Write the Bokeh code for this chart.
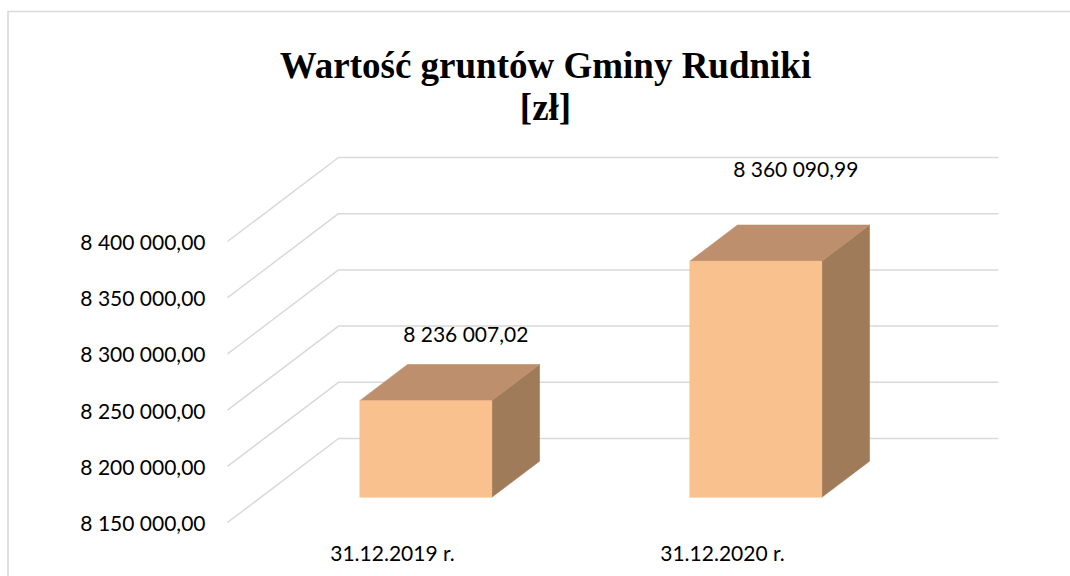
from bokeh.plotting import figure
from bokeh.models import Range1d, ColumnDataSource
from bokeh.core.properties import value
from bokeh.embed import file_html
from bokeh.resources import INLINE

# ---------------- data ----------------
title_lines = ["Wartość gruntów Gminy Rudniki", "[zł]"]
categories = ["31.12.2019 r.", "31.12.2020 r."]
values = [8236007.02, 8360090.99]
value_labels = ["8 236 007,02", "8 360 090,99"]
ticks = [8150000, 8200000, 8250000, 8300000, 8350000, 8400000]
tick_labels = ["8 150 000,00", "8 200 000,00", "8 250 000,00",
               "8 300 000,00", "8 350 000,00", "8 400 000,00"]

# ---------------- layout / style ----------------
W, H = 1070, 576
CAT_PX = 330.0          # px per category on the back wall
STEP_PX = 56.2          # px per tick step
WALL_X0 = 338.0         # px of back-wall left edge
FLOOR_Y = 438.0         # px (from top) of the back floor line
DEPTH_PX = (-111.0, 84.0)   # back wall -> front plane offset
BAR_W = 0.4
BAR_F0, BAR_F1 = 0.27, 0.70
LABEL_F = 0.34
LABEL_LIFT = [37, 62]
FRONT_C, TOP_C, SIDE_C = "#F9C18E", "#BE8F6C", "#A07B5A"
GRID_C = "#D9D9D9"
FONT = "Lato"
FONT_SIZE = "21px"

base = ticks[0]
step = ticks[1] - ticks[0]
k = STEP_PX / step
DX = DEPTH_PX[0] / CAT_PX
DY = -DEPTH_PX[1] / k


def fx(px):
    return (px - WALL_X0) / CAT_PX


def fy(py):
    return base + (FLOOR_Y - py) / k


p = figure(width=W, height=H,
           x_range=Range1d(fx(0), fx(W)), y_range=Range1d(fy(H), fy(0)),
           x_axis_type=None, y_axis_type=None,
           output_backend="svg", toolbar_location=None, min_border=0)
p.grid.visible = False
p.outline_line_color = None
p.background_fill_color = "white"
p.border_fill_color = "white"

# chart border
p.line([fx(7), fx(W)], [fy(11), fy(11)], line_color=GRID_C, line_width=1.6)
p.line([fx(7.5), fx(7.5)], [fy(11), fy(H)], line_color=GRID_C, line_width=1.6)

# gridlines: side wall diagonal + back wall horizontal
n = len(categories)
p.multi_line(xs=[[DX, 0, n] for _ in ticks],
             ys=[[t + DY, t, t] for t in ticks],
             line_color=GRID_C, line_width=1.5)

# tick labels (front edge of side wall)
p.text(x=[DX - 22 / CAT_PX] * len(ticks), y=[t + DY for t in ticks],
       text=tick_labels, text_align="right", text_baseline="middle",
       text_font=value(FONT), text_font_size=FONT_SIZE, text_color="#000000")


def pt(x, y, f):
    return x + f * DX, y + f * DY


front_xs, front_ys, top_xs, top_ys, side_xs, side_ys = [], [], [], [], [], []
for i, v in enumerate(values):
    c = i + 0.5
    x0, x1 = c - BAR_W / 2, c + BAR_W / 2
    fr = [pt(x0, base, BAR_F1), pt(x1, base, BAR_F1), pt(x1, v, BAR_F1), pt(x0, v, BAR_F1)]
    tp = [pt(x0, v, BAR_F1), pt(x1, v, BAR_F1), pt(x1, v, BAR_F0), pt(x0, v, BAR_F0)]
    sd = [pt(x1, base, BAR_F1), pt(x1, base, BAR_F0), pt(x1, v, BAR_F0), pt(x1, v, BAR_F1)]
    front_xs.append([q[0] for q in fr]); front_ys.append([q[1] for q in fr])
    top_xs.append([q[0] for q in tp]); top_ys.append([q[1] for q in tp])
    side_xs.append([q[0] for q in sd]); side_ys.append([q[1] for q in sd])

p.patches(side_xs, side_ys, fill_color=SIDE_C, line_color=SIDE_C, line_width=0.6)
p.patches(top_xs, top_ys, fill_color=TOP_C, line_color=TOP_C, line_width=0.6)
p.patches(front_xs, front_ys, fill_color=FRONT_C, line_color=FRONT_C, line_width=0.6)

# value labels
lab_src = ColumnDataSource(dict(
    x=[i + 0.5 + LABEL_F * DX for i in range(n)],
    y=[v + LABEL_F * DY + LABEL_LIFT[i] / k for i, v in enumerate(values)],
    t=value_labels))
p.text(x="x", y="y", text="t", source=lab_src, text_align="center",
       text_baseline="middle", text_font=value(FONT), text_font_size=FONT_SIZE,
       text_color="#000000")

# category labels (front plane)
p.text(x=[i + 0.5 + DX for i in range(n)], y=[base + DY - 30 / k] * n,
       text=categories, text_align="center", text_baseline="middle",
       text_font=value(FONT), text_font_size=FONT_SIZE, text_color="#000000")

# title
p.text(x=[fx(545), fx(545)], y=[fy(65), fy(107)], text=title_lines,
       text_align="center", text_baseline="alphabetic",
       text_font=value("Liberation Serif"), text_font_style="bold",
       text_font_size="37px", text_color="#000000")

open("out.html", "w").write(file_html(p, INLINE))
